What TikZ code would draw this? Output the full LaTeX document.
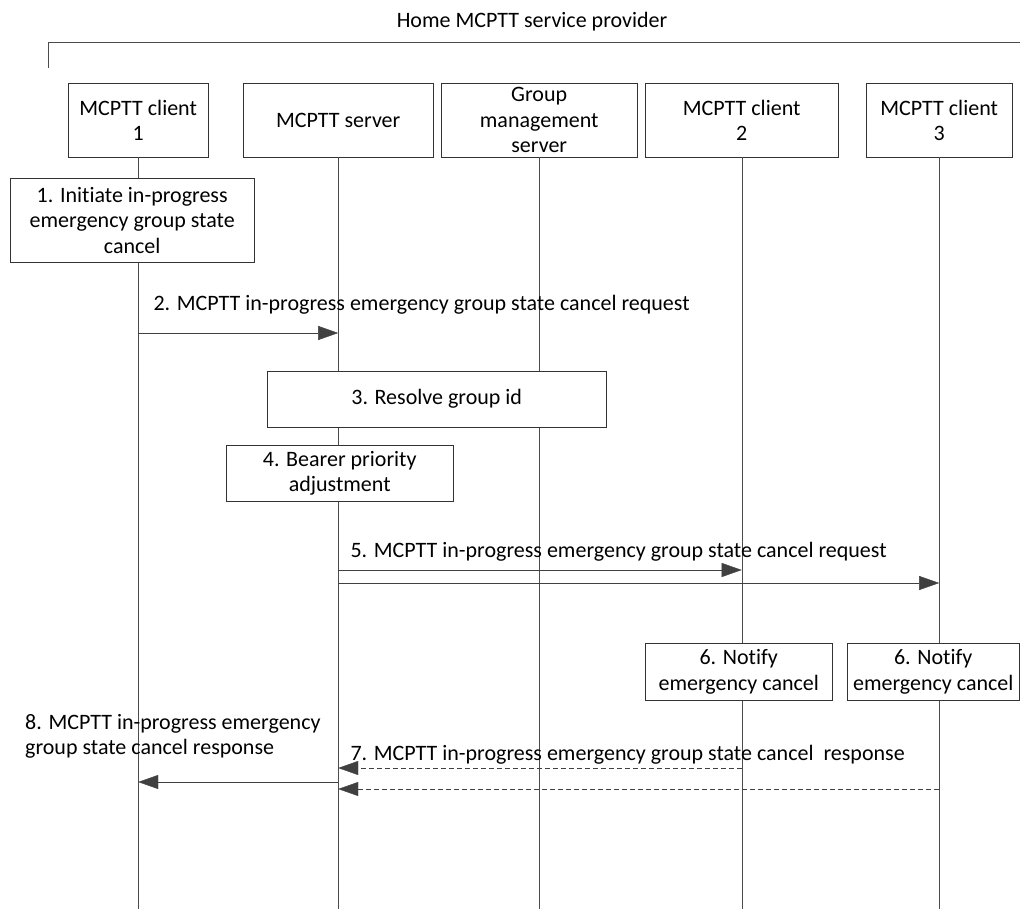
\documentclass[tikz,border=0pt]{standalone}
\usepackage{fontspec}
\setmainfont[Ligatures=NoCommon]{Carlito}
\usetikzlibrary{arrows.meta}

\begin{document}
\begin{tikzpicture}[x=1pt,y=-1pt,
		every node/.style={font=\fontsize{22}{25.5}\selectfont},
		box/.style={draw=black!80, fill=white, align=center, inner sep=2pt, anchor=north west, minimum height=74pt},
		life/.style={draw=black!70},
		msg/.style={draw=black!75, -{Triangle[length=20pt,width=14pt]}},
		reply/.style={msg, dash pattern=on 5pt off 3pt}]
		\useasboundingbox (0,0) rectangle (1020,909);

		% Provider bracket
		\node (title) at (532,22) {Home MCPTT service provider};
		\draw[black!70] (48,68) -- (48,42) -- (1020,42);

		% Entities
		\node[box, minimum width=140pt] (cl1) at (68,83) {MCPTT client\\1};
		\node[box, minimum width=190pt] (srv) at (243,83) {MCPTT server};
		\node[box, minimum width=196pt] (gms) at (441,83) {Group\\management\\server};
		\node[box, minimum width=193pt] (cl2) at (645,83) {MCPTT client\\2};
		\node[box, minimum width=146pt] (cl3) at (866,83) {MCPTT client\\3};

		% Lifelines
		\foreach \n in {cl1,srv,gms,cl2,cl3}
		\draw[life] (\n.south) -- (\n.south |- 0,909);

		% Local steps
		\node[box, minimum width=244pt, minimum height=84pt] (s1) at (10,178) {1. Initiate in-progress\\emergency group state\\cancel};
		\node[box, minimum width=339pt, minimum height=56pt] (s3) at (267,371) {3. Resolve group id};
		\node[box, minimum width=227pt, minimum height=56pt] (s4) at (226,445) {4. Bearer priority\\adjustment};
		\node[box, minimum width=187pt, minimum height=57pt] (s6a) at (645,643) {6. Notify\\emergency cancel};
		\node[box, minimum width=172pt, minimum height=57pt] (s6b) at (847,643) {6. Notify\\emergency cancel};

		% Message heights
		\coordinate (m2) at (0,333);
		\coordinate (m5a) at (0,570);
		\coordinate (m5b) at (0,583);
		\coordinate (m7a) at (0,768);
		\coordinate (m8) at (0,782);
		\coordinate (m7b) at (0,789);

		% Messages
		\draw[msg] (cl1 |- m2) -- (srv |- m2);
		\node[anchor=west] (t2) at (150,305) {2. MCPTT in-progress emergency group state cancel request};

		\draw[msg] (srv |- m5a) -- (cl2 |- m5a);
		\draw[msg] (srv |- m5b) -- (cl3 |- m5b);
		\node[anchor=west] (t5) at (347,552) {5. MCPTT in-progress emergency group state cancel request};

		\draw[reply] (cl2 |- m7a) -- (srv |- m7a);
		\draw[reply] (cl3 |- m7b) -- (srv |- m7b);
		\node[anchor=west] (t7) at (347,755) {7. MCPTT in-progress emergency group state cancel~ response};

		\draw[msg] (srv |- m8) -- (cl1 |- m8);
		\node[anchor=north west, align=left, inner sep=0pt] (t8) at (25,714) {8. MCPTT in-progress emergency\\group state cancel response};
	\end{tikzpicture}
\end{document}
